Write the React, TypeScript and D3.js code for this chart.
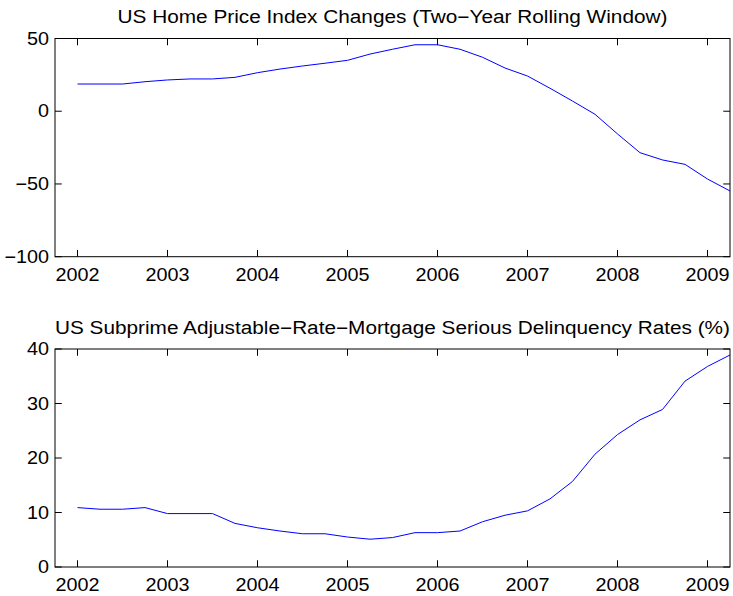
import React from 'react';
import * as d3 from 'd3';

// quarterly observations
const quarters = [
  2002, 2002.25, 2002.5, 2002.75, 2003, 2003.25, 2003.5, 2003.75,
  2004, 2004.25, 2004.5, 2004.75, 2005, 2005.25, 2005.5, 2005.75,
  2006, 2006.25, 2006.5, 2006.75, 2007, 2007.25, 2007.5, 2007.75,
  2008, 2008.25, 2008.5, 2008.75, 2009, 2009.25,
];

const homePriceChange = [
  18.7, 18.7, 18.7, 20.3, 21.5, 22.2, 22.2, 23.3,
  26.5, 29.0, 31.1, 33.0, 35.0, 39.3, 42.6, 45.7,
  45.7, 42.6, 37.1, 29.7, 24.2, 15.8, 7.0, -2.1,
  -15.6, -28.5, -33.5, -36.5, -46.6, -54.8,
];

const delinquencyRate = [
  10.9, 10.6, 10.6, 10.9, 9.8, 9.8, 9.8, 8.0,
  7.2, 6.6, 6.1, 6.1, 5.5, 5.1, 5.4, 6.3,
  6.3, 6.6, 8.3, 9.5, 10.3, 12.5, 15.7, 20.7,
  24.3, 27.0, 28.9, 34.1, 36.8, 38.9,
];

const yearTicks = [2002, 2003, 2004, 2005, 2006, 2007, 2008, 2009];
const topYTicks = [-100, -50, 0, 50];
const bottomYTicks = [0, 10, 20, 30, 40];

const topTitle = 'US Home Price Index Changes (Two\u2212Year Rolling Window)';
const bottomTitle = 'US Subprime Adjustable\u2212Rate\u2212Mortgage Serious Delinquency Rates (%)';

const FONT = "'Liberation Sans', Arial, Helvetica, sans-serif";
const TICK = 6.75;

type PanelProps = {
  top: number;
  bottom: number;
  yDomain: [number, number];
  yTicks: number[];
  values: number[];
  title: string;
  titleLen: number;
};

const Panel = ({ top, bottom, yDomain, yTicks, values, title, titleLen }: PanelProps) => {
  const left = 55;
  const right = 730;

  const x = d3.scaleLinear().domain([2001.75, 2009.25]).range([left, right]);
  const y = d3.scaleLinear().domain(yDomain).range([bottom, top]);
  const fmt = d3.format('d');

  const line = d3.line<number>()
    .x((_, i) => x(quarters[i]))
    .y(d => y(d));

  return (
    <g>
      <text
        x={(left + right) / 2}
        y={top - 15.5}
        textAnchor="middle"
        fontFamily={FONT}
        fontSize={18}
        textLength={titleLen}
        lengthAdjust="spacingAndGlyphs"
      >
        {title}
      </text>

      <path d={line(values) || ''} fill="none" stroke="#0000ff" strokeWidth={1} />

      <rect x={left} y={top} width={right - left} height={bottom - top} fill="none" stroke="#000" strokeWidth={1} />

      {yearTicks.map(t => (
        <g key={'x' + t}>
          <line x1={x(t)} x2={x(t)} y1={bottom} y2={bottom - TICK} stroke="#000" />
          <line x1={x(t)} x2={x(t)} y1={top} y2={top + TICK} stroke="#000" />
          <text
            transform={`translate(${x(t)},${bottom + 24}) scale(1.1,1)`}
            textAnchor="middle"
            fontFamily={FONT}
            fontSize={18}
          >
            {fmt(t)}
          </text>
        </g>
      ))}

      {yTicks.map(t => (
        <g key={'y' + t}>
          <line x1={left} x2={left + TICK} y1={y(t)} y2={y(t)} stroke="#000" />
          <line x1={right} x2={right - TICK} y1={y(t)} y2={y(t)} stroke="#000" />
          <text
            transform={`translate(49,${y(t)}) scale(1.1,1)`}
            textAnchor="end"
            dominantBaseline="central"
            fontFamily={FONT}
            fontSize={18}
          >
            {fmt(t)}
          </text>
        </g>
      ))}
    </g>
  );
};

export default function App() {
  return (
    <svg
      width={733}
      height={596}
      style={{ position: 'absolute', left: 0, top: 0, background: '#fff' }}
    >
      <rect width={733} height={596} fill="#fff" />
      <Panel
        top={38.5}
        bottom={256.7}
        yDomain={[-100, 50]}
        yTicks={topYTicks}
        values={homePriceChange}
        title={topTitle}
        titleLen={550}
      />
      <Panel
        top={349}
        bottom={567}
        yDomain={[0, 40]}
        yTicks={bottomYTicks}
        values={delinquencyRate}
        title={bottomTitle}
        titleLen={675}
      />
    </svg>
  );
}
